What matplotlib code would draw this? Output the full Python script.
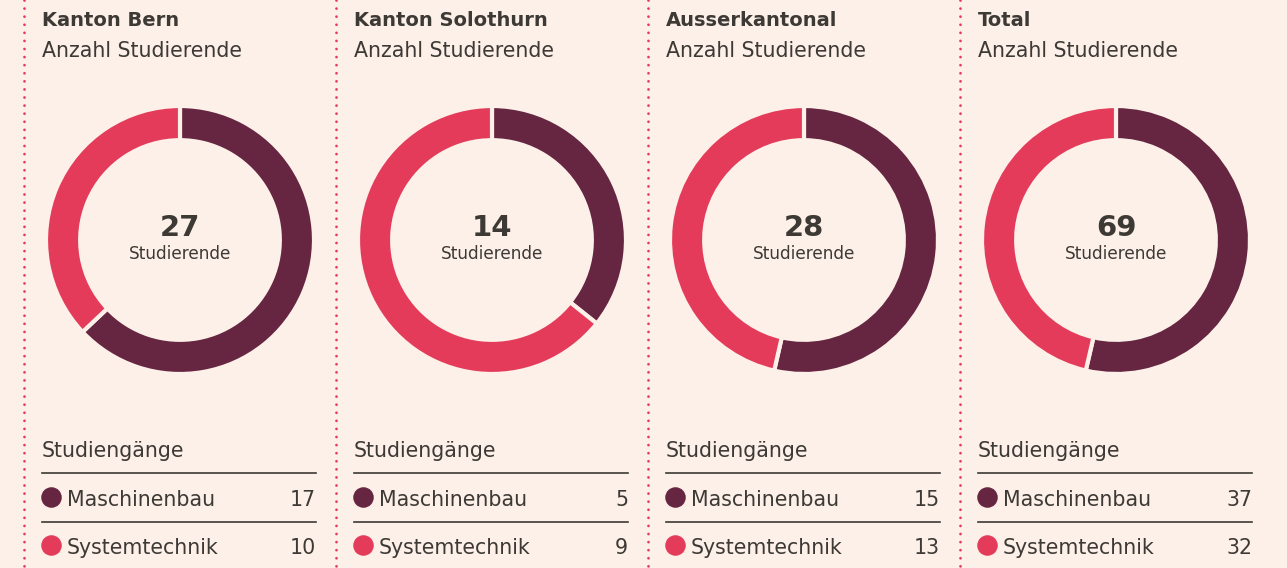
import matplotlib.pyplot as plt
from matplotlib.lines import Line2D

plt.rcParams['font.family'] = ['DejaVu Sans']

regions = ["Kanton Bern", "Kanton Solothurn", "Ausserkantonal", "Total"]
courses = ["Maschinenbau", "Systemtechnik"]
maschinenbau = [17, 5, 15, 37]
systemtechnik = [10, 9, 13, 32]

bg = "#fdf0e8"
dark = "#662642"
red = "#e43b5b"
txt = "#3d3935"
colors = [dark, red]

W, H = 1287, 568
fig = plt.figure(figsize=(W / 100, H / 100), dpi=100, facecolor=bg)

# full-figure axis in pixel coordinates for text and rules
base = fig.add_axes([0, 0, 1, 1])
base.set_xlim(0, W)
base.set_ylim(H, 0)
base.axis("off")
base.set_facecolor(bg)

panel_w = 312
for i, region in enumerate(regions):
    x0 = 24 + i * panel_w
    tx = x0 + 18
    vals = [maschinenbau[i], systemtechnik[i]]

    # dotted separator
    base.add_line(Line2D([x0, x0], [0, H], color=red, lw=2.0,
                         linestyle=(0, (0.01, 2.9)), dash_capstyle="round"))

    base.text(tx, 26, region, fontsize=14, fontweight="bold", color=txt, va="baseline")
    base.text(tx, 57, "Anzahl Studierende", fontsize=14.8, color=txt, va="baseline")

    # donut
    cx, cy, r = tx + 138, 240, 134
    ax = fig.add_axes([(cx - r) / W, (H - cy - r) / H, 2 * r / W, 2 * r / H])
    ax.pie(vals, colors=colors, startangle=90, counterclock=False,
           wedgeprops=dict(width=0.255, edgecolor=bg, linewidth=3))
    ax.set_xlim(-1, 1)
    ax.set_ylim(-1, 1)
    ax.set_aspect("equal")
    ax.axis("off")

    base.text(cx, 236, str(sum(vals)), fontsize=21, fontweight="bold", color=txt,
              ha="center", va="baseline")
    base.text(cx, 259, "Studierende", fontsize=12.2, color=txt, ha="center", va="baseline")

    # table
    right = tx + 274
    base.text(tx, 457, "Studiengänge", fontsize=14.8, color=txt, va="baseline")
    for j, (course, v) in enumerate(zip(courses, vals)):
        ly = 473 + j * 49
        base.plot([tx, right], [ly, ly], color=txt, lw=1.2)
        ry = 497 + j * 48
        base.scatter([tx + 9], [ry], s=190, color=colors[j], zorder=3)
        base.text(tx + 25, ry + 9, course, fontsize=14.8, color=txt, va="baseline")
        base.text(right, ry + 9, str(v), fontsize=14.8, color=txt, ha="right", va="baseline")

fig.savefig("out.png", dpi=100, facecolor=bg)
